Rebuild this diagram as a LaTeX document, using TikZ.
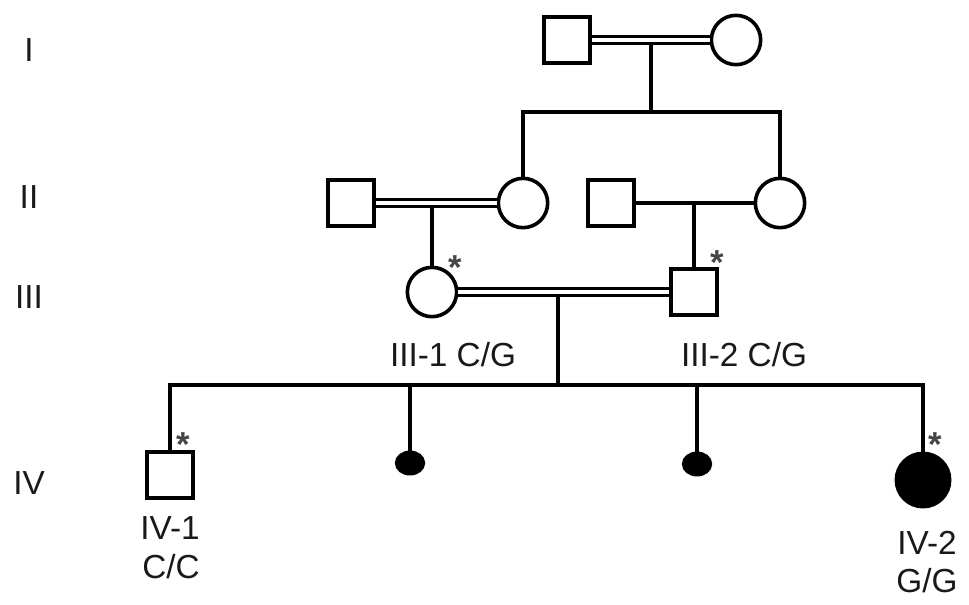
\documentclass[tikz,border=0pt]{standalone}
\usepackage{fontspec}
\setmainfont{Liberation Sans}
\usetikzlibrary{shapes.geometric}
\definecolor{ink}{RGB}{25,25,25}
\definecolor{stargray}{RGB}{70,70,70}
\begin{document}
\begin{tikzpicture}[x=0.75pt,y=-0.75pt,
  line width=2.7pt,
  male/.style={draw=black,rectangle,minimum size=34.5pt,inner sep=0pt},
  female/.style={draw=black,circle,minimum size=37pt,inner sep=0pt},
  miscarriage/.style={draw=black,fill=black,ellipse,minimum width=20pt,minimum height=16pt,inner sep=0pt},
  affected/.style={draw=black,fill=black,circle,minimum size=40pt,inner sep=0pt},
  consang/.style={double=white,double distance=2.4pt,line width=2.4pt},
  lbl/.style={text=ink,font=\fontsize{25}{28}\selectfont,inner sep=0pt},
  star/.style={text=stargray,font=\fontsize{26}{28}\selectfont\bfseries,inner sep=0pt,anchor=base}
]
\useasboundingbox (0,0) rectangle (969,604);

% generation labels
\node[lbl] (gI) at (29,50) {I};
\node[lbl] (gII) at (29,197) {II};
\node[lbl] (gIII) at (29,297) {III};
\node[lbl] (gIV) at (29,483) {IV};

% generation I
\node[male] (I1) at (567,40) {};
\node[female] (I2) at (736,40) {};
\coordinate (m1) at (651,40);
\coordinate (s1) at (651,112);

% generation II
\node[male] (II1) at (351,203) {};
\node[female] (II2) at (523,203) {};
\node[male] (II3) at (611,203) {};
\node[female] (II4) at (780,203) {};
\coordinate (m2) at (432,203);
\coordinate (m2b) at (694,203);

% generation III
\node[female] (III1) at (432,292) {};
\node[male] (III2) at (694,292) {};
\coordinate (m3) at (558,292);
\coordinate (s4) at (558,385);

% generation IV
\node[male] (IV1) at (170,475) {};
\node[miscarriage] (IVa) at (410,463) {};
\node[miscarriage] (IVb) at (697,464) {};
\node[affected] (IV2) at (923,480) {};

% connectors
\draw (m1) -- (s1);
\draw (II2) |- (s1) -| (II4);
\draw (m2) -- (III1);
\draw (II3) -- (II4);
\draw (m2b) -- (III2);
\draw (m3) -- (s4);
\draw (IV1) |- (s4) -| (IV2);
\draw (IVa) -- (IVa |- s4);
\draw (IVb) -- (IVb |- s4);
\draw[consang] (I1) -- (I2);
\draw[consang] (II1) -- (II2);
\draw[consang] (III1) -- (III2);

% labels
\node[lbl] (l31) at (453,355) {III-1 C/G};
\node[lbl] (l32) at (744,355) {III-2 C/G};
\node[lbl] (l41a) at (170,528) {IV-1};
\node[lbl] (l41b) at (171,567) {C/C};
\node[lbl] (l42a) at (927,543) {IV-2};
\node[lbl] (l42b) at (927,581) {G/G};

% asterisks
\node[star] (a1) at (455,279) {*};
\node[star] (a2) at (717,274) {*};
\node[star] (a3) at (183,456) {*};
\node[star] (a4) at (935,456) {*};
\end{tikzpicture}
\end{document}
